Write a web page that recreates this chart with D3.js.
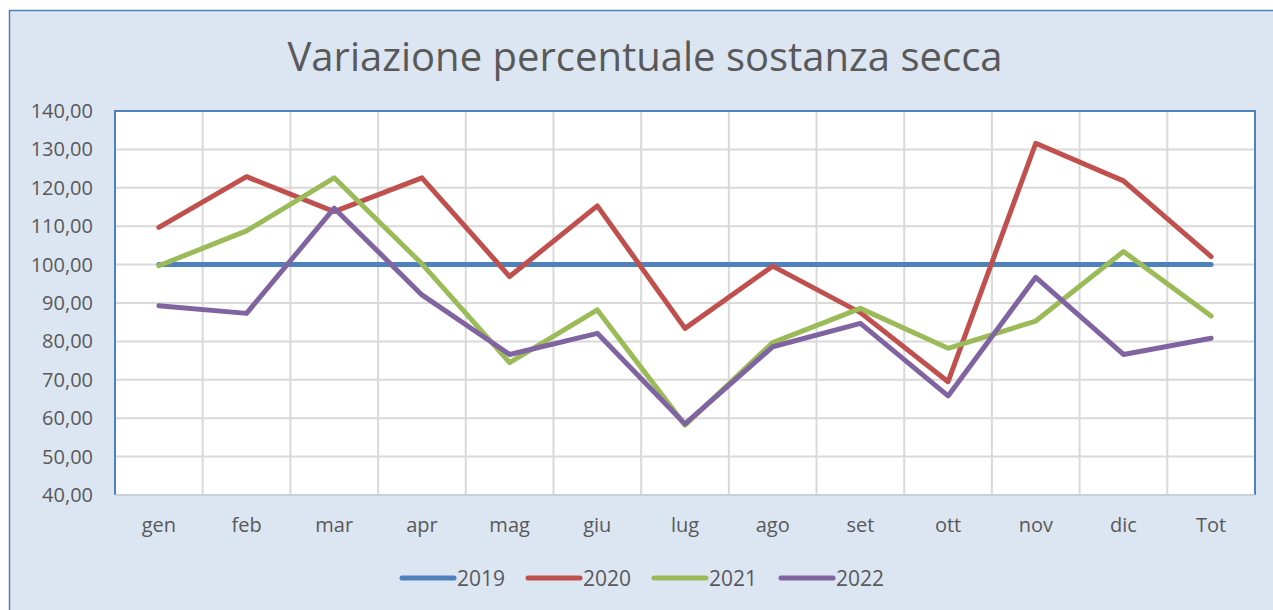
<!DOCTYPE html>
<html>
<head>
<meta charset="utf-8">
<script src="https://cdn.jsdelivr.net/npm/d3@7"></script>
<style>
  body { margin: 0; background: #fff; }
  text { font-family: "Open Sans", sans-serif; fill: #595959; }
</style>
</head>
<body>
<svg id="chart" width="1273" height="610"></svg>
<script>
// dati
const mesi = ["gen", "feb", "mar", "apr", "mag", "giu", "lug", "ago", "set", "ott", "nov", "dic", "Tot"];
const anni = ["2019", "2020", "2021", "2022"];
const v2019 = [100, 100, 100, 100, 100, 100, 100, 100, 100, 100, 100, 100, 100];
const v2020 = [109.7, 122.9, 113.8, 122.6, 96.9, 115.3, 83.4, 99.6, 87.5, 69.5, 131.6, 121.8, 102.1];
const v2021 = [99.7, 108.8, 122.6, 100.2, 74.5, 88.2, 58.2, 79.7, 88.6, 78.2, 85.3, 103.4, 86.6];
const v2022 = [89.3, 87.3, 114.7, 92.1, 76.6, 82.1, 58.5, 78.6, 84.7, 65.8, 96.7, 76.6, 80.8];
const yTicks = [40, 50, 60, 70, 80, 90, 100, 110, 120, 130, 140];
const colori = ["#4f81bd", "#c0504d", "#9bbb59", "#8064a2"];
const titolo = "Variazione percentuale sostanza secca";

const serie = [v2019, v2020, v2021, v2022];

const svg = d3.select("#chart");
const plot = {left: 115, top: 111, right: 1255, bottom: 495};

// sfondo + bordo esterno
svg.append("rect")
  .attr("x", 9.5).attr("y", 10.5)
  .attr("width", 1300).attr("height", 700)
  .attr("fill", "#dce6f2")
  .attr("stroke", "#4f81bd").attr("stroke-width", 1.5);

svg.append("text")
  .attr("x", 645).attr("y", 71)
  .attr("text-anchor", "middle")
  .style("font-size", "40px")
  .text(titolo);

const x = d3.scaleBand().domain(mesi).range([plot.left, plot.right]);
const y = d3.scaleLinear().domain([40, 140]).range([plot.bottom, plot.top]);

svg.append("rect")
  .attr("x", plot.left).attr("y", plot.top)
  .attr("width", plot.right - plot.left).attr("height", plot.bottom - plot.top)
  .attr("fill", "#fff");

// griglia orizzontale
svg.append("g")
  .selectAll("line")
  .data(yTicks)
  .join("line")
  .attr("x1", plot.left).attr("x2", plot.right)
  .attr("y1", d => y(d)).attr("y2", d => y(d))
  .attr("stroke", "#d9d9d9").attr("stroke-width", 2);

// griglia verticale
svg.append("g")
  .selectAll("line")
  .data(mesi.slice(1))
  .join("line")
  .attr("x1", d => x(d)).attr("x2", d => x(d))
  .attr("y1", plot.top).attr("y2", plot.bottom)
  .attr("stroke", "#d9d9d9").attr("stroke-width", 2);

// bordo area grafico
svg.append("path")
  .attr("d", `M${plot.left},${plot.bottom}V${plot.top}H${plot.right}V${plot.bottom}`)
  .attr("fill", "none").attr("stroke", "#4f81bd").attr("stroke-width", 2);
svg.append("line")
  .attr("x1", plot.left).attr("x2", plot.right)
  .attr("y1", plot.bottom).attr("y2", plot.bottom)
  .attr("stroke", "#c8d0da").attr("stroke-width", 2);

// assi
const yAxis = d3.axisLeft(y).tickValues(yTicks).tickSize(0).tickPadding(22)
  .tickFormat(d => d3.format(".2f")(d).replace(".", ","));
svg.append("g").attr("transform", `translate(${plot.left},0)`).call(yAxis)
  .call(g => g.select(".domain").remove())
  .selectAll("text").style("font-size", "20px").attr("fill", "#595959");

const xAxis = d3.axisBottom(x).tickSize(0).tickPadding(23);
svg.append("g").attr("transform", `translate(0,${plot.bottom})`).call(xAxis)
  .call(g => g.select(".domain").remove())
  .selectAll("text").style("font-size", "20px").attr("fill", "#595959");

// linee
const line = d3.line()
  .x((d, i) => x(mesi[i]) + x.bandwidth() / 2)
  .y(d => y(d));

svg.append("g")
  .selectAll("path")
  .data(serie)
  .join("path")
  .attr("d", line)
  .attr("fill", "none")
  .attr("stroke", (d, i) => colori[i])
  .attr("stroke-width", 5)
  .attr("stroke-linecap", "round")
  .attr("stroke-linejoin", "round");

// legenda
const legX = [400, 526, 652, 779];
const leg = svg.append("g")
  .selectAll("g")
  .data(anni)
  .join("g")
  .attr("transform", (d, i) => `translate(${legX[i]},578)`);
leg.append("line")
  .attr("x1", 2).attr("x2", 54)
  .attr("stroke", (d, i) => colori[i])
  .attr("stroke-width", 5)
  .attr("stroke-linecap", "round");
leg.append("text")
  .attr("x", 57).attr("dy", "0.36em")
  .style("font-size", "21px")
  .text(d => d);
</script>
</body>
</html>
